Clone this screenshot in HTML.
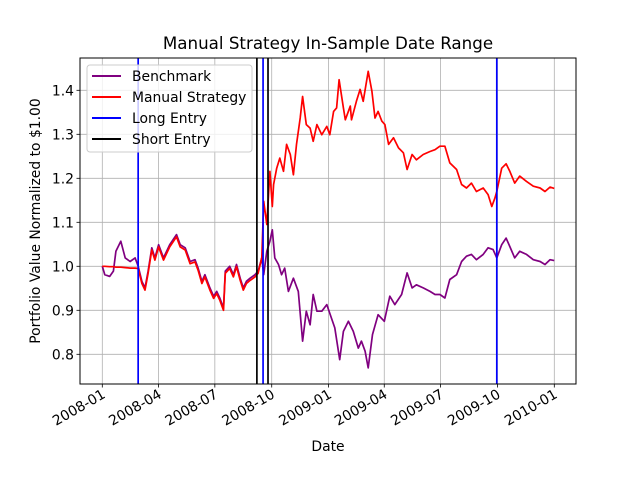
<!DOCTYPE html>
<html><head><meta charset="utf-8"><style>
html,body{margin:0;padding:0;background:#fff;}
svg{display:block;font-family:"DejaVu Sans","Liberation Sans",sans-serif;}
</style></head><body>
<svg id="chart" width="640" height="480" viewBox="0 0 640 480" xmlns="http://www.w3.org/2000/svg">
<rect x="0" y="0" width="640" height="480" fill="#fff"/>
<text x="328" y="49" font-size="16.7" text-anchor="middle">Manual Strategy In-Sample Date Range</text>
<text x="0" y="0" font-size="13.9" text-anchor="middle" transform="translate(40,221) rotate(-90)">Portfolio Value Normalized to $1.00</text>
<text x="328" y="451" font-size="13.9" text-anchor="middle">Date</text>
<g id="grid"></g>
<g id="vlines"></g>
<g id="series"></g>
<g id="ticks"></g>
<rect x="80" y="58" width="496" height="326" fill="none" stroke="#000" stroke-width="1"/>
<g>
<rect x="87" y="65" width="165" height="87" rx="3" fill="#fff" fill-opacity="0.8" stroke="#ccc"/>
<line x1="92" y1="76" x2="121" y2="76" stroke="purple" stroke-width="2"/>
<text x="132" y="81" font-size="13.9">Benchmark</text>
<line x1="92" y1="97" x2="121" y2="97" stroke="red" stroke-width="2"/>
<text x="132" y="102" font-size="13.9">Manual Strategy</text>
<line x1="92" y1="118" x2="121" y2="118" stroke="blue" stroke-width="2"/>
<text x="132" y="123" font-size="13.9">Long Entry</text>
<line x1="92" y1="139" x2="121" y2="139" stroke="#000" stroke-width="2"/>
<text x="132" y="144" font-size="13.9">Short Entry</text>
</g>
</svg>
<script>
const xTickLabels=["2008-01","2008-04","2008-07","2008-10","2009-01","2009-04","2009-07","2009-10","2010-01"];
const xTickDays=[0,91,182,274,366,456,547,639,731];
const yTickVals=[0.8,0.9,1.0,1.1,1.2,1.3,1.4];
const yTickLabels=["0.8","0.9","1.0","1.1","1.2","1.3","1.4"];
const longEntryDays=[58,260,638];
const shortEntryDays=[250,268];
const benchDays=[0,4,12,18,22,30,37,45,53,58,64,69,74,80,85,91,99,109,120,126,134,142,150,155,161,166,174,180,185,190,196,199,206,212,217,223,228,233,239,247,252,258,261,266,271,275,279,285,290,295,301,309,317,324,330,336,341,347,355,363,376,384,390,398,406,414,419,425,430,437,446,456,465,473,484,493,501,508,519,530,538,546,554,562,573,581,589,597,605,616,624,632,638,646,653,659,667,675,686,697,708,716,724,731];
const benchVals=[1.000,0.981,0.977,0.989,1.034,1.057,1.019,1.011,1.019,1.000,0.966,0.951,0.989,1.042,1.019,1.049,1.019,1.049,1.072,1.049,1.042,1.011,1.015,0.996,0.966,0.981,0.951,0.932,0.943,0.928,0.905,0.989,1.000,0.981,1.004,0.973,0.951,0.966,0.973,0.981,0.989,1.019,0.981,1.034,1.057,1.083,1.019,1.004,0.981,0.996,0.943,0.973,0.943,0.830,0.898,0.867,0.936,0.898,0.898,0.913,0.860,0.788,0.852,0.875,0.852,0.814,0.830,0.807,0.769,0.845,0.890,0.875,0.932,0.913,0.936,0.985,0.951,0.958,0.951,0.943,0.936,0.936,0.928,0.970,0.981,1.011,1.023,1.027,1.015,1.027,1.042,1.038,1.019,1.049,1.064,1.045,1.019,1.034,1.027,1.015,1.011,1.004,1.015,1.013];
const stratDays=[0,4,12,18,22,30,37,45,53,58,64,69,74,80,85,91,99,109,120,126,134,142,150,155,161,166,174,180,185,190,196,199,206,212,217,223,228,233,239,247,252,258,261,266,271,275,277,282,287,293,298,304,309,314,320,324,330,336,341,347,355,363,368,374,379,383,390,393,401,403,411,417,422,430,436,441,446,452,457,463,471,479,487,493,501,508,519,530,538,546,554,562,573,581,589,597,605,616,624,630,635,638,646,653,659,667,675,686,697,708,716,724,731];
const stratVals=[1.000,1.000,0.999,0.999,0.998,0.998,0.997,0.996,0.996,0.995,0.961,0.946,0.984,1.037,1.014,1.044,1.014,1.044,1.067,1.044,1.037,1.006,1.010,0.991,0.961,0.976,0.946,0.927,0.938,0.923,0.900,0.984,0.995,0.976,0.999,0.968,0.946,0.961,0.968,0.976,0.984,1.020,1.148,1.095,1.216,1.136,1.186,1.223,1.246,1.216,1.277,1.254,1.208,1.277,1.337,1.386,1.322,1.314,1.284,1.322,1.299,1.318,1.299,1.352,1.360,1.424,1.360,1.333,1.364,1.333,1.375,1.402,1.375,1.443,1.398,1.337,1.352,1.330,1.322,1.277,1.292,1.269,1.258,1.220,1.254,1.242,1.254,1.261,1.265,1.273,1.273,1.235,1.220,1.186,1.178,1.189,1.170,1.178,1.163,1.136,1.155,1.170,1.223,1.233,1.216,1.189,1.205,1.193,1.182,1.178,1.170,1.180,1.177];

const NS="http://www.w3.org/2000/svg";
const L=80,R=576,T=58,B=384;
function xs(d){return 102.3+d*(452/731);}
function ys(v){return 266.3-(v-1.0)*440;}
function mk(tag,attrs,parent){const e=document.createElementNS(NS,tag);for(const k in attrs)e.setAttribute(k,attrs[k]);parent.appendChild(e);return e;}
const grid=document.getElementById('grid'),ticks=document.getElementById('ticks'),vl=document.getElementById('vlines'),ser=document.getElementById('series');
xTickDays.forEach((d,i)=>{
  const x=xs(d);
  const g=mk('line',{x1:x,y1:T,x2:x,y2:B,stroke:'#b0b0b0','stroke-width':0.8},grid);
  
  
  const t=mk('line',{x1:x,y1:B,x2:x,y2:B+3.5,stroke:'#000','stroke-width':0.8},ticks);
  
  
  const lb=mk('text',{x:0,y:0,'font-size':13.9,'text-anchor':'end',transform:'translate('+(x+4)+','+(B+13)+') rotate(-30)'},ticks);
  lb.textContent=xTickLabels[i];
  
  
});
yTickVals.forEach((v,i)=>{
  const y=ys(v);
  const g=mk('line',{x1:L,y1:y,x2:R,y2:y,stroke:'#b0b0b0','stroke-width':0.8},grid);
  
  
  const t=mk('line',{x1:L-3.5,y1:y,x2:L,y2:y,stroke:'#000','stroke-width':0.8},ticks);
  
  
  const lb=mk('text',{x:L-6,y:y+5,'font-size':13.9,'text-anchor':'end'},ticks);
  lb.textContent=yTickLabels[i];
  
  
});
function path(days,vals,color,name){
  const d=days.map((dd,i)=>(i?'L':'M')+xs(dd).toFixed(1)+','+ys(vals[i]).toFixed(1)).join('');
  const p=mk('path',{d:d,fill:'none',stroke:color,'stroke-width':1.7,'stroke-linejoin':'round'},ser);
  
  
}
path(benchDays,benchVals,'purple','benchmark-line');
path(stratDays,stratVals,'red','manual-strategy-line');
longEntryDays.forEach(d=>{
  const l=mk('line',{x1:xs(d),y1:T,x2:xs(d),y2:B,stroke:'blue','stroke-width':1.7},vl);
  
  
});
shortEntryDays.forEach(d=>{
  const l=mk('line',{x1:xs(d),y1:T,x2:xs(d),y2:B,stroke:'#000','stroke-width':1.7},vl);
  
  
});
// entry lines drawn above series
ser.parentNode.insertBefore(vl,ser.nextSibling);
</script>
</body></html>
